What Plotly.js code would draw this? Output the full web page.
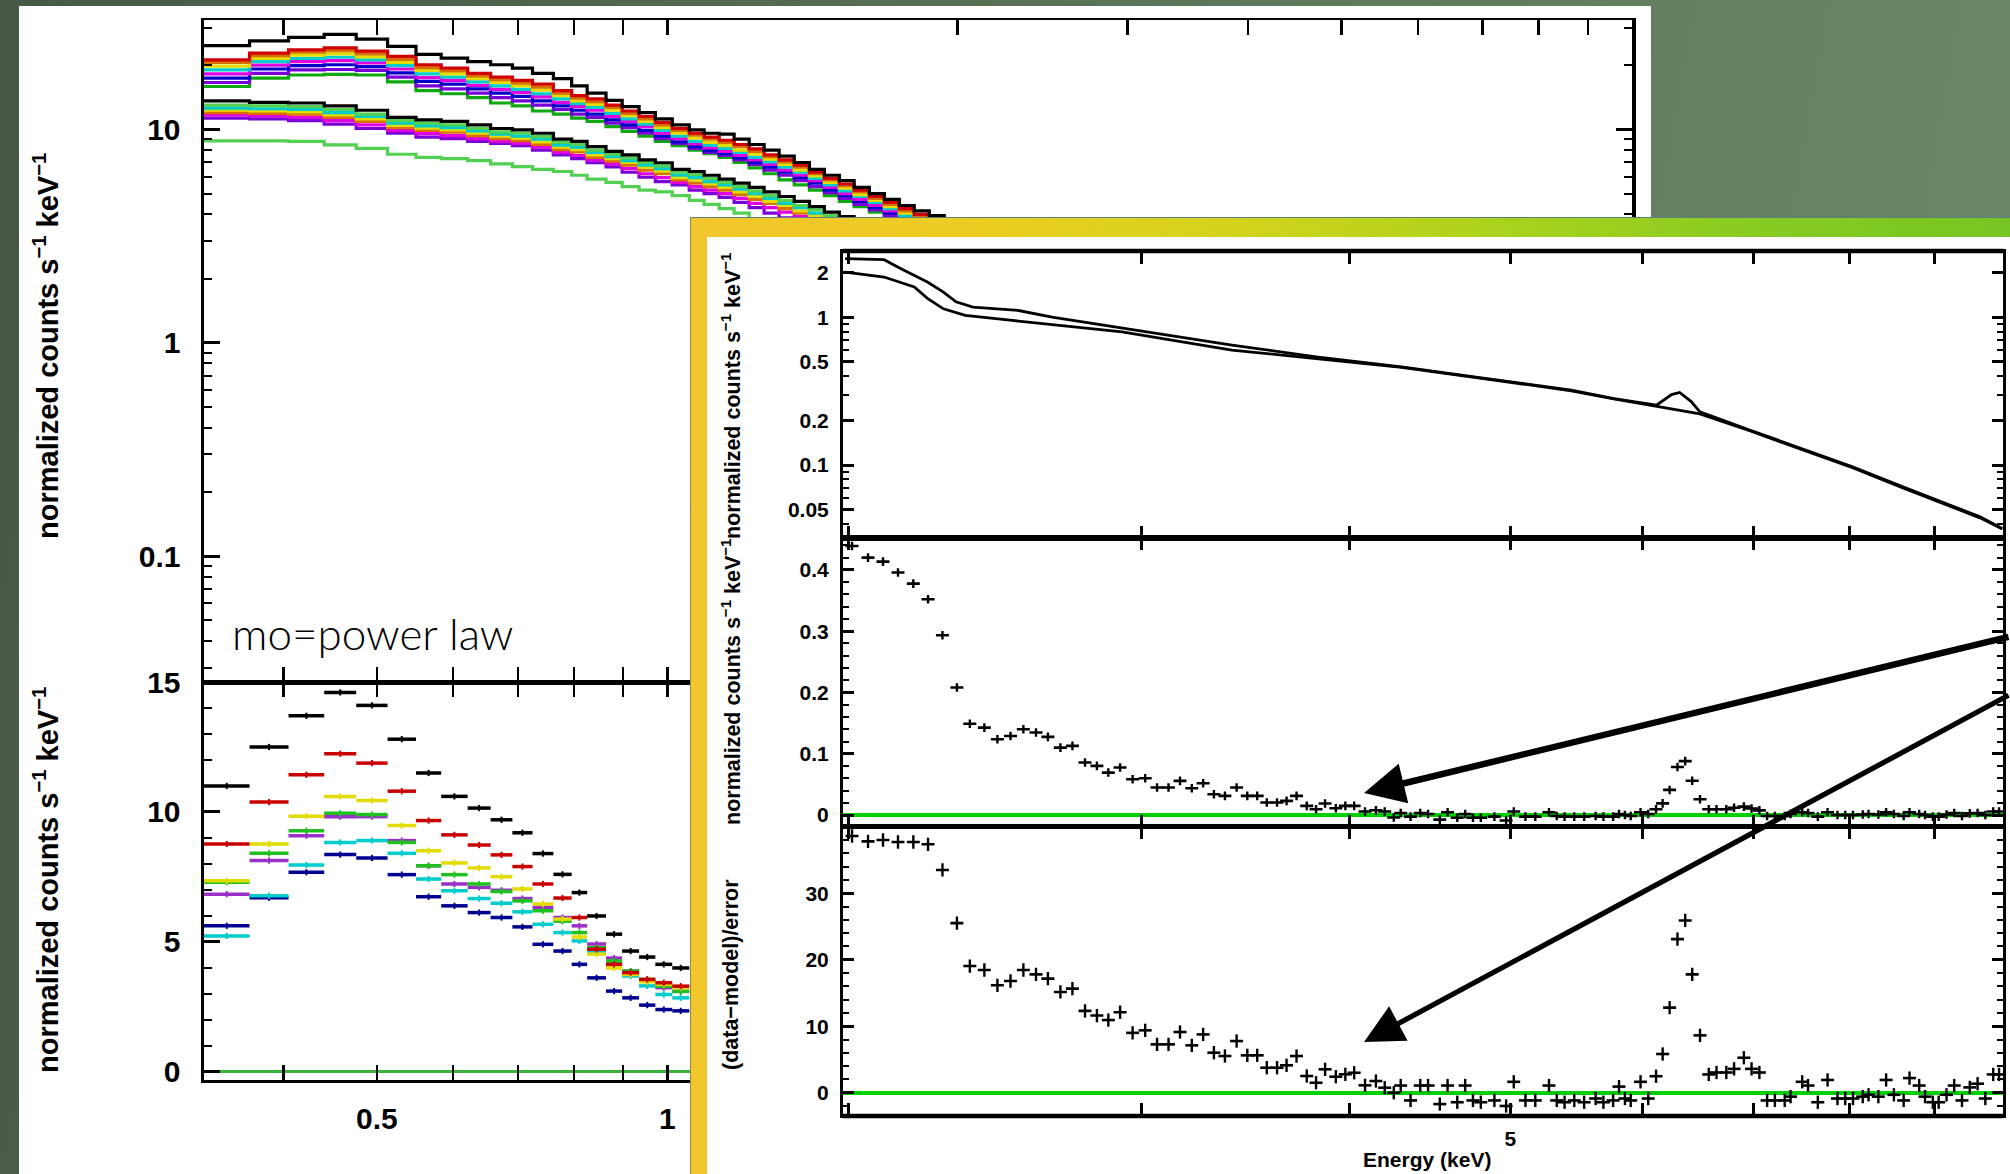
<!DOCTYPE html>
<html>
<head>
<meta charset="utf-8">
<title>Soft-band spectra and power-law residuals</title>
<script src="https://cdn.plot.ly/plotly-3.0.1.min.js"></script>
<style>
  html, body { margin:0; padding:0; width:2010px; height:1174px; overflow:hidden; }
  body { position:relative; background:linear-gradient(100deg,#465846 0%,#51674f 30%,#5e7a5b 60%,#6c8969 100%); }
  #sheet { position:absolute; left:19px; top:6px; width:1632px; height:1168px; background:#fff; }
  #main { position:absolute; left:0; top:0; width:2010px; height:1174px; }
  #frame { position:absolute; left:690px; top:217px; width:1320px; height:957px; box-sizing:border-box;
           border-top:1px solid #5c7d86; border-left:1px solid #8a8a50;
           background:linear-gradient(90deg,#f2c62c 0%,#eccd22 22%,#d2d31c 42%,#a9d21d 62%,#86cb22 82%,#77c524 100%); }
  #inset { position:absolute; left:707px; top:237px; width:1303px; height:937px; background:#fff; }
</style>
</head>
<body>
<div id="sheet"></div>
<div id="main"></div>
<div id="frame"></div>
<div id="inset"></div>
<script>
// ===================== Soft band: 0.33-2 keV, all observations =====================
// channel grouping shared by every soft-band spectrum (keV bin edges)
const binEdges = [0.331, 0.369, 0.405, 0.441, 0.476, 0.513, 0.549, 0.583, 0.621, 0.656,
  0.691, 0.725, 0.762, 0.796, 0.826, 0.864, 0.898, 0.935, 0.972, 1.012,
  1.054, 1.092, 1.132, 1.173, 1.216, 1.260, 1.306, 1.354, 1.404, 1.455,
  1.508, 1.562, 1.620, 1.679, 1.740, 1.803, 1.869, 1.937, 2.007];

// bright group (normalized counts s^-1 keV^-1, one value per bin)
const brightBlack = [24.7, 26.0, 27.0, 27.9, 26.5, 24.5, 22.5, 21.6, 20.8, 20.1, 19.4, 18.3, 17.3, 16.0, 14.8, 13.7, 12.8, 12.0, 11.2, 10.5, 9.95, 9.6, 9.5, 9.0, 8.5, 8.0, 7.5, 7.0, 6.5, 6.1, 5.75, 5.35, 5.0, 4.7, 4.4, 4.15, 3.95, 3.75];
const brightRed = [21.2, 22.8, 23.6, 24.1, 23.3, 22.0, 20.1, 19.4, 18.3, 17.6, 17.0, 16.3, 15.2, 14.4, 13.9, 13.0, 12.2, 11.5, 10.8, 10.1, 9.6, 9.2, 8.9, 8.5, 8.1, 7.6, 7.2, 6.8, 6.3, 5.9, 5.55, 5.2, 4.85, 4.55, 4.25, 4.0, 3.8];
const brightOrange = [20.6, 22.2, 23.0, 23.4, 22.6, 21.3, 19.5, 18.8, 17.8, 17.1, 16.5, 15.8, 14.8, 14.0, 13.5, 12.7, 11.9, 11.2, 10.5, 9.9, 9.4, 9.0, 8.7, 8.3, 7.9, 7.45, 7.05, 6.65, 6.2, 5.8, 5.45, 5.1, 4.75, 4.45, 4.15, 3.9, 3.7];
const brightYellow = [19.8, 21.5, 22.3, 22.6, 21.9, 20.6, 18.9, 18.2, 17.3, 16.6, 16.0, 15.3, 14.4, 13.6, 13.1, 12.3, 11.6, 10.9, 10.2, 9.6, 9.1, 8.7, 8.4, 8.0, 7.65, 7.25, 6.85, 6.45, 6.05, 5.65, 5.3, 4.95, 4.65, 4.35, 4.05, 3.8];
const brightCyan = [19.0, 20.8, 21.5, 21.8, 21.2, 19.9, 18.2, 17.6, 16.7, 16.0, 15.4, 14.7, 13.9, 13.2, 12.7, 11.9, 11.2, 10.6, 9.9, 9.3, 8.8, 8.45, 8.15, 7.8, 7.4, 7.05, 6.65, 6.3, 5.9, 5.5, 5.15, 4.85, 4.55, 4.25, 3.95, 3.7];
const brightMagenta = [18.2, 20.0, 20.8, 21.0, 20.5, 19.2, 17.5, 17.0, 16.1, 15.4, 14.9, 14.2, 13.4, 12.8, 12.3, 11.5, 10.9, 10.3, 9.6, 9.05, 8.55, 8.2, 7.9, 7.55, 7.2, 6.85, 6.45, 6.1, 5.75, 5.35, 5.0, 4.7, 4.4, 4.15, 3.85, 3.6];
const brightBlue = [17.4, 19.2, 19.9, 20.1, 19.7, 18.4, 16.8, 16.3, 15.5, 14.8, 14.3, 13.6, 12.9, 12.3, 11.8, 11.1, 10.5, 9.9, 9.3, 8.75, 8.3, 7.95, 7.7, 7.35, 7.0, 6.65, 6.3, 5.95, 5.6, 5.2, 4.9, 4.6, 4.3, 4.05, 3.8, 3.55];
const brightPurple = [16.6, 18.3, 19.0, 19.1, 18.9, 17.6, 16.0, 15.5, 14.8, 14.1, 13.6, 13.0, 12.4, 11.8, 11.4, 10.7, 10.2, 9.6, 9.05, 8.6, 8.15, 7.8, 7.55, 7.2, 6.85, 6.45, 6.1, 5.75, 5.4, 5.05, 4.75, 4.45, 4.2, 3.95, 3.7, 3.5];
const brightGreen = [15.9, 17.4, 18.0, 18.1, 18.0, 16.7, 15.2, 14.7, 14.1, 13.3, 12.9, 12.2, 11.8, 11.3, 10.9, 10.3, 9.8, 9.3, 8.8, 8.4, 8.0, 7.7, 7.4, 7.0, 6.6, 6.2, 5.8, 5.5, 5.2, 4.9, 4.6, 4.35, 4.1, 3.9, 3.7, 3.5];

// faint group
const faintBlack = [13.6, 13.4, 13.3, 12.9, 12.3, 11.4, 11.1, 10.9, 10.5, 10.1, 9.95, 9.6, 9.0, 8.8, 8.3, 7.9, 7.6, 7.2, 6.98, 6.5, 6.35, 6.1, 5.85, 5.6, 5.35, 5.1, 4.85, 4.6, 4.35, 4.1, 3.9, 3.7];
const faintGreen = [13.0, 12.9, 12.8, 12.4, 11.8, 11.0, 10.7, 10.5, 10.1, 9.75, 9.6, 9.25, 8.7, 8.5, 8.0, 7.65, 7.35, 7.0, 6.75, 6.3, 6.15, 5.9, 5.65, 5.4, 5.15, 4.9, 4.65, 4.4, 4.2, 3.95, 3.75];
const faintCyan = [12.6, 12.5, 12.4, 12.0, 11.5, 10.7, 10.4, 10.2, 9.85, 9.5, 9.3, 9.0, 8.45, 8.25, 7.8, 7.45, 7.15, 6.8, 6.55, 6.1, 5.95, 5.7, 5.5, 5.25, 5.0, 4.75, 4.5, 4.3, 4.05, 3.85];
const faintYellow = [12.3, 12.2, 12.1, 11.7, 11.2, 10.45, 10.15, 9.95, 9.6, 9.3, 9.1, 8.75, 8.25, 8.05, 7.6, 7.3, 7.0, 6.65, 6.4, 5.95, 5.8, 5.55, 5.35, 5.1, 4.85, 4.6, 4.4, 4.15, 3.95, 3.75];
const faintRed = [12.0, 11.9, 11.8, 11.4, 10.9, 10.2, 9.9, 9.7, 9.35, 9.05, 8.85, 8.5, 8.05, 7.85, 7.4, 7.1, 6.8, 6.45, 6.2, 5.8, 5.6, 5.4, 5.2, 4.95, 4.7, 4.5, 4.25, 4.05, 3.85];
const faintMagenta = [11.7, 11.6, 11.4, 11.0, 10.5, 9.9, 9.55, 9.35, 9.05, 8.8, 8.6, 8.25, 7.8, 7.55, 7.2, 6.9, 6.55, 6.2, 5.95, 5.65, 5.4, 5.2, 5.0, 4.75, 4.5, 4.3, 4.1, 3.9, 3.7];
const faintPurple = [11.3, 11.2, 11.0, 10.6, 10.1, 9.6, 9.2, 9.05, 8.8, 8.6, 8.4, 8.0, 7.6, 7.3, 6.98, 6.67, 6.3, 5.97, 5.7, 5.5, 5.2, 5.0, 4.8, 4.55, 4.3, 4.05, 3.85, 3.65];
const dimGreen = [8.83, 8.83, 8.8, 8.46, 8.16, 7.65, 7.4, 7.3, 7.15, 6.9, 6.7, 6.5, 6.35, 6.1, 5.85, 5.65, 5.4, 5.2, 5.1, 4.9, 4.65, 4.45, 4.25, 4.05, 3.8];

// lower panel: normalized counts (linear), first 20 bins
const lowBlack = [11.0, 12.5, 13.7, 14.6, 14.1, 12.8, 11.5, 10.6, 10.15, 9.7, 9.2, 8.4, 7.6, 6.9, 6.0, 5.3, 4.65, 4.42, 4.14, 4.0];
const lowRed = [8.77, 10.38, 11.43, 12.24, 11.88, 10.8, 9.67, 9.12, 8.73, 8.35, 7.9, 7.23, 6.69, 5.94, 4.72, 4.14, 3.82, 3.56, 3.43, 3.3];
const lowYellow = [7.35, 8.77, 9.84, 10.6, 10.44, 9.48, 8.51, 8.04, 7.85, 7.51, 7.04, 6.46, 5.88, 5.19, 4.53, 4.0, 3.75, 3.47, 3.37, 3.24];
const lowGreen = [7.3, 8.41, 9.28, 9.95, 9.9, 8.83, 7.93, 7.59, 7.23, 6.94, 6.58, 6.2, 5.8, 5.36, 4.78, 4.27, 3.88, 3.56, 3.3, 3.1];
const lowPurple = [6.84, 8.13, 9.09, 9.82, 9.82, 8.9, 7.93, 7.23, 7.1, 6.99, 6.67, 6.33, 5.94, 5.62, 4.92, 4.38, 3.88, 3.49, 3.24, 3.1];
const lowCyan = [5.23, 6.78, 7.96, 8.83, 8.9, 8.41, 7.42, 6.97, 6.67, 6.49, 6.16, 5.68, 5.36, 5.04, 4.65, 4.17, 3.69, 3.31, 2.98, 2.85];
const lowBlue = [5.62, 6.7, 7.68, 8.36, 8.23, 7.59, 6.74, 6.39, 6.13, 5.94, 5.58, 4.91, 4.65, 4.14, 3.62, 3.11, 2.85, 2.57, 2.4, 2.35];

// energy axis: labelled ticks and the unlabelled ones between them
const softLabelTicks = [0.5, 1, 2, 5];
const softLabelText = ['0.5', '1', '2', '5'];
const softPlainTicks = [0.4, 0.6, 0.7, 0.8, 0.9, 3, 4, 6, 7, 8, 9, 10];

// ===================== Hard band: 2-10 keV, single observation =====================
const hardDataE = [1.99, 2.10, 2.15, 2.23, 2.28, 2.32, 2.375, 2.53, 2.65, 2.85, 3.07, 3.40, 3.82, 4.30, 4.84, 5.44, 5.77, 6.12, 6.25, 6.32, 6.42, 6.50, 6.97, 7.48, 8.03, 8.61, 9.14, 9.58, 9.88];
const hardData = [2.49, 2.45, 2.13, 1.73, 1.48, 1.27, 1.17, 1.11, 1.0, 0.883, 0.776, 0.647, 0.54, 0.462, 0.385, 0.321, 0.282, 0.254, 0.30, 0.31, 0.27, 0.229, 0.172, 0.130, 0.0975, 0.0714, 0.0551, 0.0447, 0.0373];
const hardModelE = [1.99, 2.10, 2.19, 2.23, 2.28, 2.35, 2.50, 2.68, 2.92, 3.20, 3.40, 3.82, 4.30, 4.84, 5.44, 5.77, 6.12, 6.50, 6.97, 7.48, 8.03, 8.61, 9.14, 9.58, 9.88];
const hardModel = [2.02, 1.87, 1.60, 1.34, 1.14, 1.03, 0.955, 0.883, 0.796, 0.67, 0.60, 0.525, 0.458, 0.382, 0.318, 0.28, 0.25, 0.222, 0.17, 0.128, 0.096, 0.070, 0.054, 0.044, 0.037];

// channel energies shared by the excess and residual panels
const chanE = [2.009, 2.054, 2.097, 2.141, 2.187, 2.232, 2.277, 2.323, 2.365, 2.413,
  2.457, 2.502, 2.547, 2.592, 2.635, 2.681, 2.726, 2.774, 2.820, 2.865,
  2.912, 2.963, 3.015, 3.065, 3.114, 3.164, 3.216, 3.267, 3.316, 3.367,
  3.422, 3.473, 3.521, 3.568, 3.619, 3.667, 3.718, 3.771, 3.820, 3.868,
  3.926, 3.978, 4.027, 4.088, 4.150, 4.201, 4.254,
  4.295, 4.354, 4.413, 4.461, 4.534, 4.583, 4.645, 4.696, 4.747, 4.799,
  4.890, 4.970, 5.023, 5.105, 5.175, 5.274, 5.331, 5.389, 5.462, 5.537,
  5.626, 5.687, 5.764, 5.811, 5.859, 5.906, 5.987, 6.051, 6.117, 6.173,
  6.233, 6.301, 6.369, 6.431, 6.501, 6.580, 6.651, 6.742, 6.815, 6.908,
  6.982, 7.058, 7.134, 7.211, 7.310, 7.369, 7.489, 7.550, 7.653, 7.757,
  7.864, 7.949, 8.035, 8.144, 8.210, 8.322, 8.412, 8.503, 8.619, 8.689,
  8.806, 8.878, 8.974, 9.047, 9.146, 9.244, 9.344, 9.445, 9.548, 9.651,
  9.757, 9.836];

// excess counts above the power law (normalized counts s^-1 keV^-1)
const excessCounts = [0.439, 0.420, 0.4135, 0.3956, 0.3776, 0.352, 0.2933, 0.208, 0.149, 0.1427,
  0.1237, 0.129, 0.140, 0.1346, 0.1276, 0.110, 0.1129, 0.0857, 0.0802, 0.0693,
  0.0775, 0.0584, 0.060, 0.0449, 0.0449, 0.0558, 0.0437, 0.0519, 0.034, 0.0313,
  0.0449, 0.0313, 0.0313, 0.0204, 0.0204, 0.0231, 0.0313, 0.015, 0.0095, 0.0188,
  0.011, 0.015, 0.015, 0.0057, 0.0078, 0.0057, -0.004,
  0.0034, -0.0026, 0.0034, 0.0016, -0.0075, 0.0046, -0.0045, 0.0016, -0.0045, -0.0045,
  -0.0026, -0.0088, 0.0058, -0.0026, -0.0026, 0.0046, -0.0015, -0.0026, -0.0026, -0.0026,
  -0.0015, -0.0026, -0.0026, 0.0016, 0, -0.0015, 0.0046, 0.0016, 0.0095, 0.019,
  0.041, 0.0785, 0.088, 0.056, 0.0258, 0.0095, 0.0095, 0.0095, 0.0119, 0.0137,
  0.0106, 0.0077, -0.0015, -0.0015, -0.0015, 0.0016, 0.0046, 0.0034, -0.0026, 0.0046,
  0, 0, 0, 0.001, 0.0016, 0.001, 0.0046, 0.0016, -0.0015, 0.0046,
  0.0016, 0, -0.0026, -0.0026, 0.001, 0.0034, -0.0015, 0.0028, 0.0034, 0,
  0.0058, 0.0058];

// (data - model) / error
const residSigma = [38.6, 37.8, 38.0, 37.7, 37.7, 37.35, 33.5, 25.5, 19.05, 18.45,
  16.15, 16.8, 18.45, 17.8, 17.15, 15.15, 15.65, 12.3, 11.6, 10.93,
  12.1, 9.0, 9.38, 7.27, 7.27, 9.13, 7.12, 8.77, 6.02, 5.52,
  7.77, 5.62, 5.62, 3.76, 3.76, 4.12, 5.52, 2.51, 1.5, 3.52,
  2.41, 2.77, 3.0, 1.11, 1.76, 0.75, 0.0,
  1.08, -1.16, 1.08, 1.08, -1.71, 1.08, -1.43, 1.08, -1.16, -1.43,
  -1.16, -1.99, 1.64, -1.16, -1.16, 1.08, -1.16, -1.43, -1.16, -1.43,
  -0.87, -1.43, -1.16, 0.92, -0.87, -1.16, 1.64, -0.87, 2.48, 5.82,
  12.8, 23.1, 25.9, 17.8, 8.62, 2.75, 3.04, 3.04, 3.59, 5.26,
  3.59, 3.04, -1.16, -1.16, -1.16, -0.59, 1.64, 1.08, -1.43, 1.92,
  -0.87, -0.87, -0.87, -0.59, -0.31, -0.59, 1.92, -0.31, -1.16, 2.2,
  1.08, -0.59, -1.43, -1.43, -0.31, 1.08, -1.16, 0.8, 1.36, -0.87,
  2.75, 2.75];

const hardLabelTicks = [5];
const hardLabelText = ['5'];
const hardPlainTicks = [2, 3, 4, 6, 7, 8, 9, 10];

// ===================== drawing =====================
const TICK_FONT = 'Liberation Sans, Arial, Helvetica, sans-serif';
const C = {
  black: '#000000', red: '#d00000', orange: '#d87000', yellow: '#e2dc00', cyan: '#00cccc',
  magenta: '#e000e0', blue: '#0000c8', purple: '#7a00d8', green: '#10a810', lightGreen: '#52d052'
};

const binCenters = [];
for (let i = 0; i < binEdges.length - 1; i++) binCenters.push(Math.sqrt(binEdges[i] * binEdges[i + 1]));

function stepTrace(vals, color, width) {
  return {
    x: binEdges.slice(0, vals.length + 1),
    y: vals.concat([vals[vals.length - 1]]),
    type: 'scatter', mode: 'lines', xaxis: 'x', yaxis: 'y',
    line: { shape: 'hv', color: color, width: width || 3.2 }, hoverinfo: 'skip'
  };
}

function crossTrace(vals, color) {
  const c = binCenters.slice(0, vals.length);
  return {
    x: c, y: vals, type: 'scatter', mode: 'markers', xaxis: 'x2', yaxis: 'y2',
    marker: { size: 3, color: color },
    error_x: { type: 'data', symmetric: false, array: c.map((v, i) => binEdges[i + 1] - v),
               arrayminus: c.map((v, i) => v - binEdges[i]), color: color, thickness: 3.5, width: 0 },
    error_y: { type: 'constant', value: 0.12, color: color, thickness: 2, width: 0 },
    hoverinfo: 'skip'
  };
}

const mainTraces = [
  stepTrace(dimGreen, C.lightGreen),
  stepTrace(faintPurple, C.purple), stepTrace(faintMagenta, C.magenta), stepTrace(faintRed, C.orange),
  stepTrace(faintYellow, C.yellow), stepTrace(faintCyan, C.cyan), stepTrace(faintGreen, C.lightGreen),
  stepTrace(faintBlack, C.black),
  stepTrace(brightGreen, C.green), stepTrace(brightPurple, C.purple), stepTrace(brightBlue, C.blue),
  stepTrace(brightMagenta, C.magenta), stepTrace(brightCyan, C.cyan), stepTrace(brightYellow, C.yellow),
  stepTrace(brightOrange, C.orange), stepTrace(brightRed, C.red), stepTrace(brightBlack, C.black),
  crossTrace(lowBlue, '#000090'), crossTrace(lowCyan, C.cyan), crossTrace(lowPurple, '#9a30c8'),
  crossTrace(lowGreen, '#20c020'), crossTrace(lowYellow, C.yellow), crossTrace(lowRed, '#c80000'),
  crossTrace(lowBlack, C.black)
];

// page-pixel helpers for the full-page figure
const W = 2010, H = 1174;
const px = x => x / W, py = y => 1 - y / H;

const softRange = [Math.log10(binEdges[0]), 1.0];
const softMinor = [0.03, 0.04, 0.05, 0.06, 0.07, 0.08, 0.09, 0.2, 0.3, 0.4, 0.5, 0.6, 0.7, 0.8, 0.9,
                   2, 3, 4, 5, 6, 7, 8, 9, 20, 30];
const tickFontBig = { family: TICK_FONT, size: 30, color: '#000', weight: 'bold' };
const ytitle = 'normalized counts s<sup>−1</sup> keV<sup>−1</sup>';

function label(text, x, y, size, angle) {
  return { text: text, xref: 'paper', yref: 'paper', x: x, y: y, xanchor: 'center', yanchor: 'middle',
           textangle: angle || 0, showarrow: false,
           font: { family: TICK_FONT, size: size, color: '#000', weight: 'bold' } };
}

const softX = (anchor, extra) => Object.assign({
  domain: [px(204), px(1632)], anchor: anchor, type: 'log',
  tickmode: 'array', tickvals: softLabelTicks, ticktext: softLabelText, tickfont: tickFontBig,
  ticks: 'inside', ticklen: 15, tickwidth: 2.5, tickcolor: '#000',
  minor: { tickmode: 'array', tickvals: softPlainTicks, ticks: 'inside', ticklen: 15, tickwidth: 2.5, tickcolor: '#000' },
  showline: true, linewidth: 2.5, linecolor: '#000', mirror: 'ticks', showgrid: false, zeroline: false
}, extra);

const mainLayout = {
  width: W, height: H, margin: { l: 0, r: 0, t: 0, b: 0 },
  paper_bgcolor: 'rgba(0,0,0,0)', plot_bgcolor: 'rgba(0,0,0,0)', showlegend: false,
  xaxis: softX('y', { range: softRange, showticklabels: false }),
  yaxis: {
    domain: [py(682), py(20)], anchor: 'x', type: 'log', range: [-1.590, 1.513],
    tickmode: 'array', tickvals: [0.1, 1, 10], ticktext: ['0.1', '1', '10'], tickfont: tickFontBig,
    ticks: 'inside', ticklen: 16, tickwidth: 3, tickcolor: '#000', ticklabelstandoff: 14,
    minor: { tickmode: 'array', tickvals: softMinor, ticks: 'inside', ticklen: 8, tickwidth: 2, tickcolor: '#000' },
    showline: true, linewidth: 3.5, linecolor: '#000', mirror: 'ticks', showgrid: false, zeroline: false
  },
  xaxis2: softX('y2', { matches: 'x', ticklabelstandoff: 10 }),
  yaxis2: {
    domain: [py(1080), py(682)], anchor: 'x2', range: [-0.31, 15],
    tickmode: 'array', tickvals: [0, 5, 10, 15], ticktext: ['0', '5', '10', '15'], tickfont: tickFontBig,
    ticks: 'inside', ticklen: 16, tickwidth: 3, tickcolor: '#000', ticklabelstandoff: 14,
    minor: { dtick: 1, ticks: 'inside', ticklen: 8, tickwidth: 2, tickcolor: '#000' },
    showline: true, linewidth: 3.5, linecolor: '#000', mirror: 'ticks', showgrid: false,
    zeroline: true, zerolinecolor: '#3cb43c', zerolinewidth: 3
  },
  annotations: [
    label(ytitle, px(46), py(346), 29, -90),
    label(ytitle, px(46), py(880), 29, -90),
    { text: 'mo=power law', xref: 'paper', yref: 'paper', x: px(230), y: py(633),
      xanchor: 'left', yanchor: 'middle', showarrow: false,
      font: { family: 'Lato, "Open Sans", sans-serif', size: 44, color: '#000', weight: 300 } }
  ]
};

Plotly.newPlot('main', mainTraces, mainLayout, { staticPlot: true, displayModeBar: false });

// ---------------- hard-band figure ----------------
const IW = 1303, IH = 937, IX0 = 707, IY0 = 237;
const ix = x => (x - IX0) / IW, iy = y => 1 - (y - IY0) / IH;

const hardTraces = [
  { x: hardModelE, y: hardModel, type: 'scatter', mode: 'lines', xaxis: 'x', yaxis: 'y',
    line: { color: '#000', width: 2.8 }, hoverinfo: 'skip' },
  { x: hardDataE, y: hardData, type: 'scatter', mode: 'lines', xaxis: 'x', yaxis: 'y',
    line: { color: '#000', width: 2.8 }, hoverinfo: 'skip' },
  { x: chanE, y: excessCounts, type: 'scatter', mode: 'markers', xaxis: 'x2', yaxis: 'y2',
    marker: { size: 2, color: '#000' },
    error_x: { type: 'percent', value: 0.9, color: '#000', thickness: 2.6, width: 0 },
    error_y: { type: 'constant', value: 0.007, color: '#000', thickness: 2.4, width: 0 }, hoverinfo: 'skip' },
  { x: chanE, y: residSigma, type: 'scatter', mode: 'markers', xaxis: 'x3', yaxis: 'y3',
    marker: { size: 2, color: '#000' },
    error_x: { type: 'percent', value: 0.9, color: '#000', thickness: 2.6, width: 0 },
    error_y: { type: 'constant', value: 1, color: '#000', thickness: 2.4, width: 0 }, hoverinfo: 'skip' }
];

const tickFontSmall = { family: TICK_FONT, size: 21, color: '#000', weight: 'bold' };
const hardX = (anchor, extra) => Object.assign({
  domain: [ix(843), ix(2003)], anchor: anchor, type: 'log',
  tickmode: 'array', tickvals: hardLabelTicks, ticktext: hardLabelText, tickfont: tickFontSmall,
  showticklabels: false, ticks: 'inside', ticklen: 12, tickwidth: 3, tickcolor: '#000',
  minor: { tickmode: 'array', tickvals: hardPlainTicks, ticks: 'inside', ticklen: 12, tickwidth: 3, tickcolor: '#000' },
  showline: true, linewidth: 2.6, linecolor: '#000', mirror: 'ticks', showgrid: false, zeroline: false
}, extra);
const hardY = (anchor, extra) => Object.assign({
  anchor: anchor, tickfont: tickFontSmall, ticks: 'inside', ticklen: 11, tickwidth: 3, tickcolor: '#000',
  ticklabelstandoff: 7, showline: true, linewidth: 3, linecolor: '#000', mirror: 'ticks',
  showgrid: false, zeroline: false
}, extra);

const insetLayout = {
  width: IW, height: IH, margin: { l: 0, r: 0, t: 0, b: 0 },
  paper_bgcolor: '#ffffff', plot_bgcolor: '#ffffff', showlegend: false,
  xaxis: hardX('y', { range: [Math.log10(1.984), Math.log10(9.89)] }),
  xaxis2: hardX('y2', { matches: 'x' }),
  xaxis3: hardX('y3', { matches: 'x', showticklabels: true, ticklabelstandoff: 3 }),
  yaxis: hardY('x', {
    domain: [iy(538), iy(252)], type: 'log', range: [-1.493, 0.441],
    tickmode: 'array', tickvals: [0.05, 0.1, 0.2, 0.5, 1, 2], ticktext: ['0.05', '0.1', '0.2', '0.5', '1', '2'],
    minor: { tickmode: 'array', tickvals: [0.04, 0.06, 0.07, 0.08, 0.09, 0.3, 0.4, 0.6, 0.7, 0.8, 0.9],
             ticks: 'inside', ticklen: 6, tickwidth: 2, tickcolor: '#000' }
  }),
  yaxis2: hardY('x2', {
    domain: [iy(826.7), iy(538)], range: [-0.019, 0.452],
    tickmode: 'array', tickvals: [0, 0.1, 0.2, 0.3, 0.4], ticktext: ['0', '0.1', '0.2', '0.3', '0.4'],
    minor: { dtick: 0.02, ticks: 'inside', ticklen: 6, tickwidth: 2, tickcolor: '#000' },
    zeroline: true, zerolinecolor: '#00d000', zerolinewidth: 4
  }),
  yaxis3: hardY('x3', {
    domain: [iy(1115), iy(826.7)], range: [-3.35, 40],
    tickmode: 'array', tickvals: [0, 10, 20, 30], ticktext: ['0', '10', '20', '30'],
    minor: { dtick: 2, ticks: 'inside', ticklen: 6, tickwidth: 2, tickcolor: '#000' },
    zeroline: true, zerolinecolor: '#00d000', zerolinewidth: 4
  }),
  shapes: [
    // heavier outer frame edges at top and bottom
    { type: 'line', xref: 'paper', yref: 'paper', x0: ix(843), x1: ix(2003), y0: iy(251), y1: iy(251),
      line: { color: '#000', width: 4.5 }, layer: 'above' },
    { type: 'line', xref: 'paper', yref: 'paper', x0: ix(843), x1: ix(2003), y0: iy(1116), y1: iy(1116),
      line: { color: '#000', width: 4.5 }, layer: 'above' }
  ],
  annotations: [
    label(ytitle, ix(731), iy(396), 21.5, -90),
    label(ytitle, ix(731), iy(682), 21.5, -90),
    label('(data−model)/error', ix(731), iy(975), 21.5, -90),
    label('Energy (keV)', ix(1427), iy(1159), 21, 0),
    // pointers to the soft excess in both lower panels
    { text: '', xref: 'paper', yref: 'paper', x: ix(1364), y: iy(793), ax: 646, ay: -156.5,
      showarrow: true, arrowhead: 2, arrowsize: 1.25, arrowwidth: 6.5, arrowcolor: '#000',
      standoff: 0, startstandoff: 0 },
    { text: '', xref: 'paper', yref: 'paper', x: ix(1364), y: iy(1042), ax: 646, ay: -347.5,
      showarrow: true, arrowhead: 2, arrowsize: 1.5, arrowwidth: 5.2, arrowcolor: '#000',
      standoff: 0, startstandoff: 0 }
  ]
};

Plotly.newPlot('inset', hardTraces, insetLayout, { staticPlot: true, displayModeBar: false });
</script>
</body>
</html>
